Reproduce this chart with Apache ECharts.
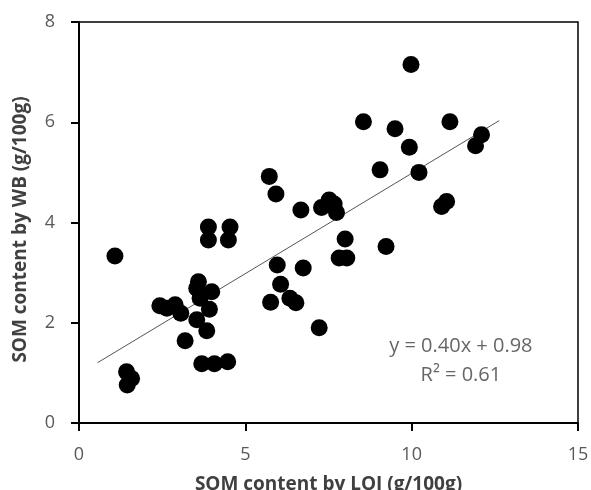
<!DOCTYPE html>
<html><head><meta charset="utf-8">
<script src="https://cdn.jsdelivr.net/npm/echarts@6/dist/echarts.min.js"></script>
<style>html,body{margin:0;padding:0;background:#fff}#c{width:591px;height:490px}</style>
</head><body><div id="c"></div>
<script>
const loiValues = [1.08,1.43,1.58,1.45,2.43,2.64,2.89,3.06,3.19,3.59,3.54,3.64,3.99,3.92,3.54,3.84,3.69,4.07,4.47,3.89,3.89,4.54,4.49,5.72,5.92,6.67,7.29,7.52,7.67,7.74,5.96,6.74,6.06,5.76,6.34,6.52,7.22,8.0,7.82,8.05,9.23,9.05,10.22,9.93,8.55,9.50,9.98,11.15,12.10,11.92,10.90,11.05];
const wbValues  = [3.33,1.02,0.89,0.76,2.34,2.29,2.36,2.19,1.64,2.82,2.69,2.49,2.62,2.27,2.06,1.84,1.18,1.18,1.22,3.91,3.65,3.91,3.65,4.92,4.57,4.25,4.30,4.45,4.37,4.20,3.15,3.09,2.77,2.41,2.49,2.40,1.90,3.67,3.29,3.29,3.52,5.05,5.00,5.50,6.01,5.87,7.15,6.01,5.75,5.53,4.32,4.42];
const trendSlope = 0.40, trendIntercept = 0.98;
const trendRange = [0.56, 12.63];
const xTicks = [0,5,10,15];
const yTicks = [0,2,4,6,8];
const equationText = ['y = 0.40x + 0.98', 'R\u00B2 = 0.61'];
const equationPos = [[11.48, 1.53], [11.48, 0.96]];

const points = loiValues.map((x,i)=>[x, wbValues[i]]);
const trend = trendRange.map(x=>[x, trendSlope*x + trendIntercept]);
const font = '"Open Sans", "Liberation Sans", sans-serif';

const chart = echarts.init(document.getElementById('c'), null, {renderer:'canvas'});
chart.setOption({
  animation:false,
  backgroundColor:'#fff',
  grid:{left:79, right:13, top:22, bottom:67, show:true, borderColor:'#000', borderWidth:1.5, containLabel:false, outerBoundsMode:'none'},
  xAxis:{type:'value', min:xTicks[0], max:xTicks[xTicks.length-1], interval:5,
    splitLine:{show:false},
    axisLine:{show:true, onZero:false, lineStyle:{color:'#000', width:2}},
    axisTick:{show:true, inside:false, length:8, lineStyle:{color:'#000', width:2}},
    axisLabel:{color:'#595959', fontSize:18, fontFamily:font, margin:23},
    name:'SOM content by LOI (g/100g)', nameLocation:'middle', nameGap:52,
    nameTextStyle:{color:'#404040', fontSize:19, fontWeight:'bold', fontFamily:font}
  },
  yAxis:{type:'value', min:yTicks[0], max:yTicks[yTicks.length-1], interval:2,
    splitLine:{show:false},
    axisLine:{show:true, onZero:false, lineStyle:{color:'#000', width:2}},
    axisTick:{show:true, inside:false, length:8, lineStyle:{color:'#000', width:2}},
    axisLabel:{color:'#595959', fontSize:18, fontFamily:font, margin:24},
    name:'SOM content by WB (g/100g)', nameLocation:'middle', nameGap:49, nameRotate:90,
    nameTextStyle:{color:'#404040', fontSize:19, fontWeight:'bold', fontFamily:font, padding:[0,14,0,0]}
  },
  series:[
    {type:'scatter', data:points, symbol:'circle', symbolSize:17,
     itemStyle:{color:'#000', opacity:1}, z:3},
    {type:'line', data:trend, showSymbol:false, symbol:'none',
     lineStyle:{color:'#555', width:1}, z:2},
    {type:'scatter', data:equationPos.map((p,i)=>({value:p, name:equationText[i]})), symbolSize:0,
     label:{show:true, position:'inside', formatter:p=>p.name, color:'#404040', fontSize:20, fontFamily:font}, z:4}
  ]
});
</script></body></html>
